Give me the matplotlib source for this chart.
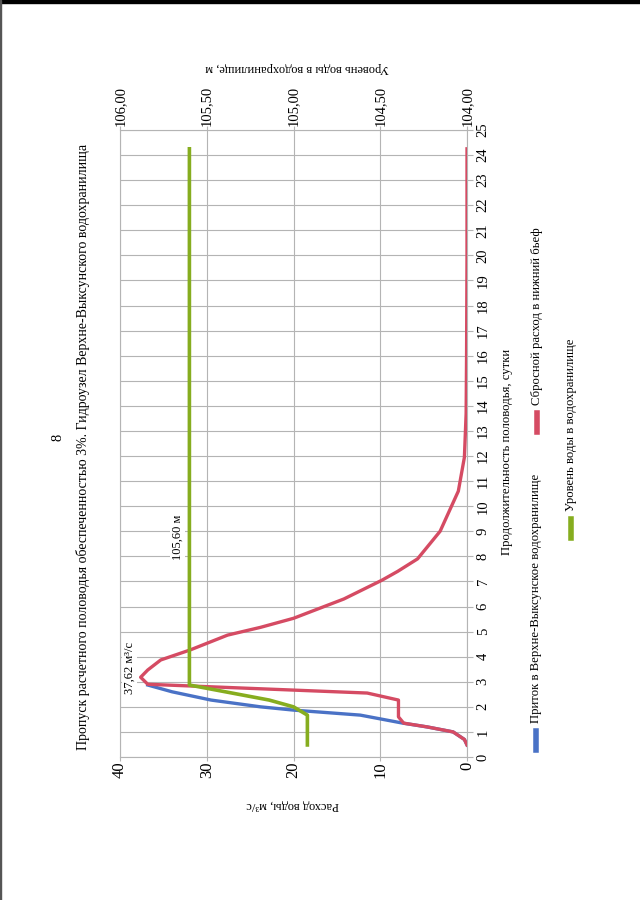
import matplotlib
matplotlib.use("Agg")
import matplotlib.pyplot as plt
from matplotlib.lines import Line2D
from matplotlib.patches import Rectangle
from matplotlib.ticker import FuncFormatter, MultipleLocator

# ---------------------------------------------------------------------------
# Data (the whole page is rotated 90 deg CCW)
# ---------------------------------------------------------------------------

# Inflow to the reservoir, m3/s
days_in = [0.48, 0.7, 1.0, 1.2, 1.35, 1.67, 1.87, 2.0, 2.27, 2.6, 2.87]
flow_in = [0.0, 0.3, 1.6, 4.6, 7.4, 12.3, 20.0, 23.8, 29.5, 34.0, 36.8]

# Discharge to the tailwater, m3/s
days_out = [0.48, 0.7, 1.0, 1.2, 1.35, 1.6, 2.27, 2.55, 2.9, 3.18, 3.47, 3.87,
            4.27, 4.86, 5.17, 5.53, 6.3, 7.05, 7.4, 7.9, 9.0, 10.6, 11.95, 13.7,
            16.0, 20.0, 24.25]
flow_out = [0.0, 0.3, 1.6, 4.6, 7.3, 7.9, 7.9, 11.5, 36.8, 37.62, 36.8, 35.3,
            31.9, 27.6, 23.8, 20.0, 14.2, 9.8, 8.0, 5.7, 3.1, 1.0, 0.3, 0.1,
            0.05, 0.0, 0.0]

# Water level in the reservoir, m
days_lvl = [0.48, 1.67, 2.0, 2.27, 2.87, 24.25]
level = [104.92, 104.92, 105.0, 105.14, 105.60, 105.60]

peak_label_day = 3.55
peak_flow = 37.62
lvl_label_day = 8.75

flow_ticks = [0, 10, 20, 30, 40]
level_ticks = [104.0, 104.5, 105.0, 105.5, 106.0]

BLUE = "#4a72c6"
RED = "#d54b63"
GREEN = "#86ad1f"
GRID = "#b4b4b4"

plt.rcParams["font.family"] = ["Liberation Serif", "DejaVu Serif"]

fig = plt.figure(figsize=(6.4, 9), dpi=100)
W, H = 640.0, 900.0


def fx(px):
    return px / W


def fy(py):
    return 1 - py / H


# plot area in pixels: left 120, right 467, top 130, bottom 757
ax = fig.add_axes([fx(120), fy(757), fx(467) - fx(120), fy(130) - fy(757)])

ax.plot(flow_in, days_in, color=BLUE, lw=2.4, solid_joinstyle="round", zorder=3)
ax.plot(flow_out, days_out, color=RED, lw=2.4, solid_joinstyle="round", zorder=4)

ax.set_xlim(40, 0)
ax.set_ylim(0, 25)
ax.set_xticks(flow_ticks)
ax.yaxis.set_major_locator(MultipleLocator(1))
ax.yaxis.tick_right()
ax.tick_params(axis="y", labelrotation=90, labelsize=10.5, length=4,
               color=GRID, pad=3)
ax.tick_params(axis="x", labelrotation=90, labelsize=12, length=3,
               color=GRID, pad=0.5)
for lab in ax.get_yticklabels():
    lab.set_va("center")
ax.grid(True, color=GRID, lw=0.8)
for s in ax.spines.values():
    s.set_color(GRID)
    s.set_linewidth(0.8)

ax2 = ax.twiny()
ax2.plot(level, days_lvl, color=GREEN, lw=2.6, solid_joinstyle="round", zorder=5)
ax2.set_xlim(106, 104)
ax2.set_xticks(level_ticks)
ax2.xaxis.set_major_formatter(FuncFormatter(lambda v, p: f"{v:.2f}".replace(".", ",")))
ax2.tick_params(axis="x", labelrotation=90, labelsize=10.5, length=3,
                color=GRID, pad=0)
for s in ax2.spines.values():
    s.set_visible(False)

# annotations
ax.text(peak_flow + 1.3, peak_label_day, "37,62 м³/с", rotation=90, fontsize=9,
        ha="center", va="center",
        bbox=dict(facecolor="white", edgecolor="none", pad=1))
ax2.text(level[-1] + 0.07, lvl_label_day, "105,60 м", rotation=90, fontsize=9,
         ha="center", va="center",
         bbox=dict(facecolor="white", edgecolor="none", pad=1))

# axis titles, page title, page number
fig.text(fx(293), fy(805), "Расход воды, м³/с", rotation=180, fontsize=9,
         ha="center", va="center")
fig.text(fx(297), fy(68), "Уровень воды в водохранилище, м", rotation=180,
         fontsize=9, ha="center", va="center")
fig.text(fx(507), fy(452), "Продолжительность половодья, сутки", rotation=90,
         fontsize=9.2, ha="center", va="center")
fig.text(fx(83), fy(447), "Пропуск расчетного половодья обеспеченностью 3%. "
         "Гидроузел Верхне-Выксунского водохранилища", rotation=90,
         fontsize=10, ha="center", va="center")
fig.text(fx(58), fy(437), "8", rotation=90, fontsize=10.5, ha="center", va="center")

# legend, drawn by hand because it is rotated with the page
legend = [
    (536, 750, BLUE, "Приток в Верхне-Выксунское водохранилище"),
    (537, 432, RED, "Сбросной расход в нижний бьеф"),
    (571, 538, GREEN, "Уровень воды в водохранилище"),
]
for x, y0, col, txt in legend:
    fig.add_artist(Line2D([fx(x), fx(x)], [fy(y0), fy(y0 - 19)], color=col,
                          lw=4, transform=fig.transFigure))
    fig.text(fx(x), fy(y0 - 27), txt, rotation=90, fontsize=9.2,
             ha="center", va="bottom")

# scanned page edge
fig.add_artist(Rectangle((0, fy(3)), 1, fy(0) - fy(3), color="black",
                         transform=fig.transFigure))
fig.add_artist(Rectangle((0, 0), fx(1.2), 1, color="#555555",
                         transform=fig.transFigure))

fig.savefig("out.png", dpi=100)
